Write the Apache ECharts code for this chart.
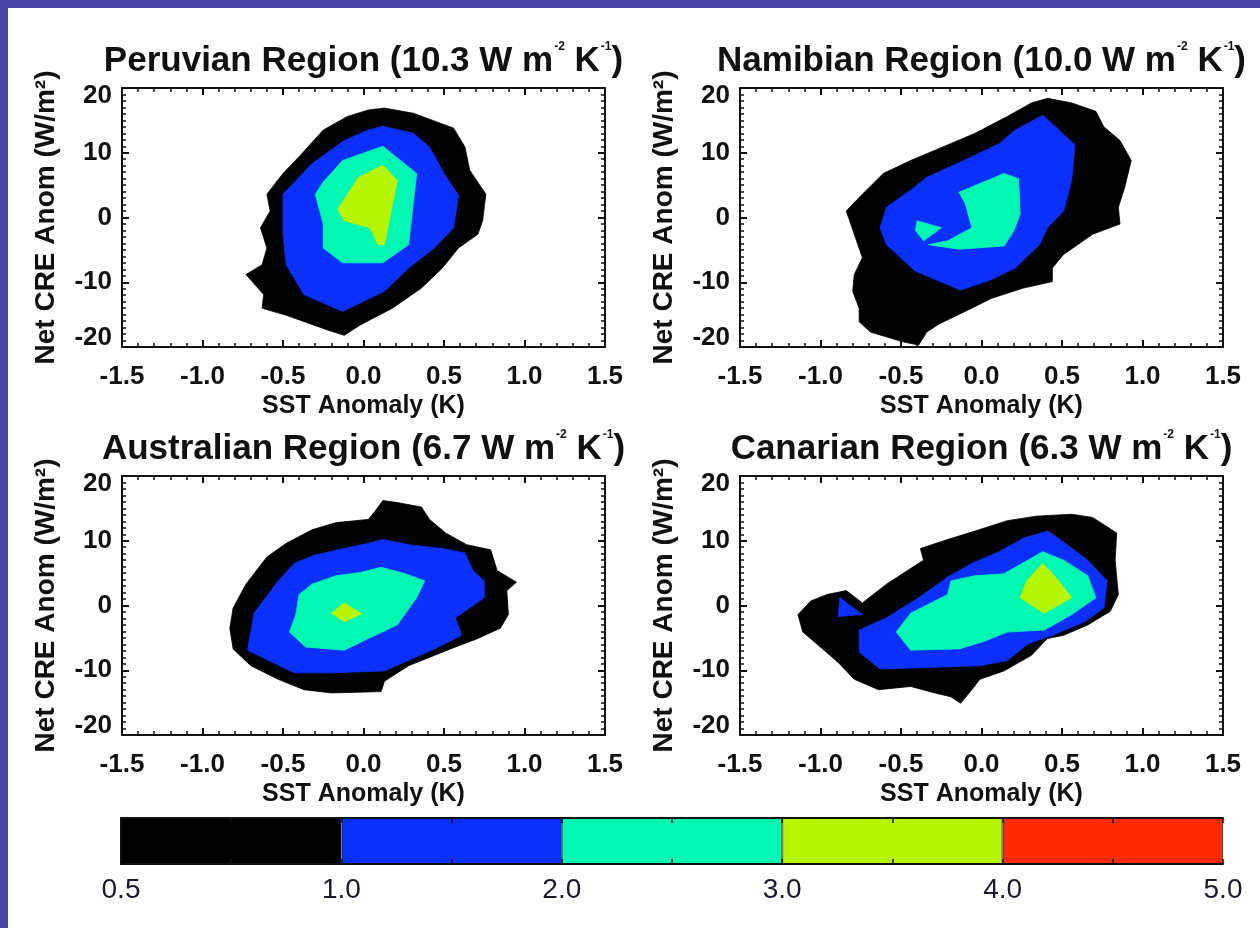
<!DOCTYPE html>
<html>
<head>
<meta charset="utf-8">
<script src="https://cdn.jsdelivr.net/npm/echarts@6/dist/echarts.min.js"></script>
<style>
  html, body { margin: 0; padding: 0; background: #4747a5; }
  #main { position: absolute; left: 8px; top: 8px; width: 1252px; height: 920px; background: #fff; }
</style>
</head>
<body>
<div id="main"></div>
<script>
// panel titles and slopes (W m-2 K-1)
var panelNames = ['Peruvian Region', 'Namibian Region', 'Australian Region', 'Canarian Region'];
var panelSlopes = ['10.3', '10.0', '6.7', '6.3'];

// colorbar levels and colours
var cbLevels = ['0.5', '1.0', '2.0', '3.0', '4.0', '5.0'];
var cbColors = ['#000000', '#0b30ff', '#00f7b2', '#b6f400', '#ff2a00'];

// contour polygons, [SST anomaly (K), net CRE anomaly (W/m2)]
var peruBlack = [[0.13,16.9],[0.31,16.1],[0.56,13.8],[0.63,10.9],[0.66,7.3],[0.76,3.6],[0.74,-0.5],[0.71,-2.6],[0.59,-4.7],[0.49,-7.8],[0.36,-10.9],[0.18,-14.0],[-0.02,-16.6],[-0.12,-18.2],[-0.22,-17.4],[-0.48,-15.1],[-0.63,-14.0],[-0.62,-11.9],[-0.73,-8.8],[-0.63,-7.3],[-0.60,-4.7],[-0.64,-1.6],[-0.58,1.0],[-0.60,3.6],[-0.50,6.8],[-0.40,9.4],[-0.25,13.5],[-0.10,15.6],[0.03,16.6]];
var peruBlue = [[0.12,14.1],[0.31,13.0],[0.41,10.9],[0.50,6.8],[0.59,3.4],[0.56,-1.6],[0.44,-4.7],[0.28,-7.8],[0.13,-11.4],[-0.13,-14.5],[-0.37,-11.9],[-0.48,-7.3],[-0.50,-2.6],[-0.50,3.6],[-0.32,8.3],[-0.12,11.9],[0.03,13.5]];
var peruCyan = [[0.12,11.0],[0.33,6.8],[0.28,-4.2],[0.12,-7.0],[-0.13,-7.0],[-0.25,-4.7],[-0.25,-1.0],[-0.30,3.6],[-0.25,5.5],[-0.13,8.8]];
var peruYellow = [[0.12,8.1],[0.21,5.7],[0.18,2.1],[0.13,-4.2],[0.09,-4.2],[0.04,-1.6],[-0.12,-0.5],[-0.16,1.3],[-0.03,6.2]];

var namiBlack = [[0.41,18.4],[0.56,17.7],[0.71,16.4],[0.76,14.0],[0.86,11.9],[0.93,8.8],[0.89,4.7],[0.85,1.6],[0.86,-1.0],[0.69,-2.6],[0.51,-5.7],[0.44,-7.8],[0.44,-9.9],[0.26,-10.9],[0.06,-12.5],[-0.06,-14.0],[-0.26,-16.4],[-0.34,-17.7],[-0.39,-19.7],[-0.49,-19.2],[-0.69,-17.7],[-0.76,-16.1],[-0.76,-14.0],[-0.80,-11.4],[-0.79,-8.8],[-0.74,-6.2],[-0.79,-2.6],[-0.84,1.0],[-0.74,3.6],[-0.61,6.8],[-0.44,8.8],[-0.24,10.9],[-0.04,13.0],[0.16,15.6],[0.31,17.7]];
var namiBlue = [[0.38,15.8],[0.46,14.0],[0.58,11.2],[0.56,5.7],[0.51,1.0],[0.41,-1.6],[0.36,-4.2],[0.21,-7.8],[0.06,-9.6],[-0.13,-11.2],[-0.41,-8.3],[-0.59,-4.2],[-0.63,-1.6],[-0.59,1.6],[-0.44,4.2],[-0.34,6.2],[-0.11,8.8],[0.11,11.4],[0.21,13.5]];
var namiCyan = [[-0.14,3.9],[0.14,6.8],[0.23,6.0],[0.24,0.5],[0.20,-2.1],[0.14,-4.4],[-0.14,-4.9],[-0.33,-4.2],[-0.21,-3.6],[-0.06,-1.6],[-0.10,2.1]];
var namiCyan2 = [[-0.40,-0.5],[-0.25,-1.6],[-0.36,-3.6],[-0.41,-2.0]];

var ausBlack = [[0.12,16.2],[0.21,15.9],[0.36,15.2],[0.41,13.3],[0.51,11.2],[0.64,9.4],[0.79,8.6],[0.83,5.4],[0.95,3.6],[0.89,2.3],[0.90,-1.4],[0.85,-3.5],[0.71,-5.1],[0.54,-6.7],[0.28,-9.3],[0.13,-11.7],[0.11,-13.3],[-0.20,-13.5],[-0.37,-13.0],[-0.53,-11.4],[-0.70,-9.3],[-0.81,-6.7],[-0.83,-3.5],[-0.81,-0.4],[-0.73,3.3],[-0.60,7.5],[-0.48,9.6],[-0.32,11.7],[-0.17,12.8],[0.03,13.3],[0.07,14.5]];
var ausBlue = [[0.12,10.2],[0.28,9.4],[0.49,8.8],[0.63,8.1],[0.68,5.4],[0.75,3.8],[0.75,1.2],[0.57,-1.9],[0.61,-4.6],[0.44,-6.7],[0.13,-10.1],[-0.20,-10.4],[-0.43,-10.4],[-0.72,-6.9],[-0.68,-1.2],[-0.53,3.8],[-0.43,6.5],[-0.30,7.8],[-0.12,8.8],[0.03,9.6]];
var ausCyan = [[0.11,5.9],[0.26,4.9],[0.38,3.8],[0.33,1.2],[0.21,-3.0],[0.03,-5.1],[-0.12,-6.9],[-0.36,-6.4],[-0.46,-4.1],[-0.42,-1.4],[-0.40,1.7],[-0.32,3.3],[-0.17,4.6],[-0.02,5.1]];
var ausYellow = [[-0.12,0.4],[-0.01,-1.3],[-0.12,-2.5],[-0.20,-1.2]];

var canBlack = [[0.56,14.1],[0.69,13.6],[0.84,11.2],[0.83,7.0],[0.85,1.7],[0.80,-0.9],[0.66,-3.0],[0.51,-4.6],[0.41,-5.1],[0.31,-7.7],[0.14,-10.1],[-0.01,-11.4],[-0.06,-13.0],[-0.13,-15.1],[-0.19,-14.1],[-0.29,-13.5],[-0.44,-12.5],[-0.64,-13.0],[-0.79,-11.4],[-0.89,-8.8],[-1.01,-6.2],[-1.11,-4.1],[-1.14,-1.4],[-1.06,0.7],[-0.96,1.7],[-0.84,2.3],[-0.74,0.4],[-0.59,3.3],[-0.46,5.4],[-0.36,7.0],[-0.38,8.8],[-0.21,10.2],[-0.04,11.5],[0.16,13.1],[0.34,13.8]];
var canBlue = [[0.41,11.5],[0.46,10.7],[0.66,7.0],[0.78,3.8],[0.76,-0.4],[0.64,-2.5],[0.44,-4.6],[0.29,-5.9],[0.16,-8.5],[-0.01,-9.3],[-0.36,-9.6],[-0.63,-9.8],[-0.76,-7.2],[-0.76,-3.8],[-0.59,-1.9],[-0.39,1.2],[-0.21,4.4],[-0.06,6.5],[0.11,8.3],[0.26,10.4]];
var canBlue2 = [[-0.88,1.2],[-0.74,-1.4],[-0.89,-1.7]];
var canCyan = [[0.38,8.3],[0.51,7.0],[0.66,4.6],[0.71,1.2],[0.56,-1.4],[0.39,-3.8],[0.16,-4.1],[0.01,-5.6],[-0.14,-6.7],[-0.44,-6.9],[-0.53,-4.1],[-0.44,-1.2],[-0.21,1.7],[-0.19,3.8],[-0.04,4.6],[0.14,4.9],[0.21,5.9]];
var canYellow = [[0.38,6.5],[0.46,4.4],[0.56,1.2],[0.39,-1.2],[0.24,1.2],[0.28,3.8]];

// polygons of each panel, outer to inner: [points, level index]
var panelPolys = [
    [[peruBlack, 0], [peruBlue, 1], [peruCyan, 2], [peruYellow, 3]],
    [[namiBlack, 0], [namiBlue, 1], [namiCyan, 2], [namiCyan2, 2]],
    [[ausBlack, 0], [ausBlue, 1], [ausCyan, 2], [ausYellow, 3]],
    [[canBlack, 0], [canBlue, 1], [canBlue2, 1], [canCyan, 2], [canYellow, 3]]
];

var FONT = "'Liberation Sans', Arial, sans-serif";
var INK = '#111';
var gridPos = [[114, 80], [732, 80], [114, 468], [732, 468]];
var GW = 483, GH = 259;

function polyRender(points, color) {
    return function (params, api) {
        if (params.dataIndex !== 0) return;
        var pts = [];
        for (var i = 0; i < points.length; i++) {
            pts.push(api.coord(points[i]));
        }
        return { type: 'polygon', shape: { points: pts }, style: { fill: color, stroke: color, lineWidth: 0.8 } };
    };
}

var tickFont = { fontFamily: FONT, fontSize: 26, fontWeight: 'bold', color: INK };

function frameAxis(isX, pos, showLabel, name) {
    var ax = {
        type: 'value',
        position: pos,
        z: 10,
        min: isX ? -1.5 : -20,
        max: isX ? 1.5 : 20,
        interval: isX ? 0.5 : 10,
        axisLine: { show: true, onZero: false, lineStyle: { color: INK, width: 2 } },
        axisTick: { show: true, inside: true, length: 7, lineStyle: { color: INK, width: 2 } },
        minorTick: { show: true, splitNumber: isX ? 5 : 10, length: 4, lineStyle: { color: INK, width: 1.5 } },
        splitLine: { show: false },
        axisLabel: Object.assign({
            show: showLabel,
            margin: isX ? 17 : 10,
            formatter: function (v) {
                if (isX) return v.toFixed(1);
                // end labels sit inside the frame, as in the original plot
                if (v === 20) return '{hi|20}';
                if (v === -20) return '{lo|-20}';
                return String(v);
            },
            rich: {
                hi: Object.assign({ padding: [15, 0, 0, 0] }, tickFont),
                lo: Object.assign({ padding: [0, 0, 19, 0] }, tickFont)
            }
        }, tickFont)
    };
    if (name) {
        ax.name = name;
        ax.nameLocation = 'middle';
        ax.nameGap = isX ? 47 : 62;
        ax.nameTextStyle = { fontFamily: FONT, fontSize: isX ? 25 : 28, fontWeight: 'bold', color: INK };
    }
    return ax;
}

var chart = echarts.init(document.getElementById('main'));

var titles = [], grids = [], xAxes = [], yAxes = [], series = [];
for (var p = 0; p < 4; p++) {
    var gx = gridPos[p][0], gy = gridPos[p][1];
    titles.push({
        text: '{a|' + panelNames[p] + ' (' + panelSlopes[p] + ' W m}{s|-2}{a| K}{s|-1}{a|)}',
        left: gx + GW / 2,
        top: gy - 47,
        textAlign: 'center',
        padding: 0,
        textStyle: {
            rich: {
                a: { fontFamily: FONT, fontSize: 35, fontWeight: 'bold', color: INK, lineHeight: 40 },
                s: { fontFamily: FONT, fontSize: 12, fontWeight: 'bold', color: INK, lineHeight: 40, verticalAlign: 'top', padding: [0, 0, 18, 1] }
            }
        }
    });
    grids.push({ left: gx, top: gy, width: GW, height: GH });
    xAxes.push(Object.assign(frameAxis(true, 'bottom', true, 'SST Anomaly (K)'), { gridIndex: p }));
    xAxes.push(Object.assign(frameAxis(true, 'top', false), { gridIndex: p }));
    yAxes.push(Object.assign(frameAxis(false, 'left', true, 'Net CRE Anom (W/m\u00b2)'), { gridIndex: p }));
    yAxes.push(Object.assign(frameAxis(false, 'right', false), { gridIndex: p }));
    panelPolys[p].forEach(function (poly) {
        series.push({
            type: 'custom',
            xAxisIndex: p * 2,
            yAxisIndex: p * 2,
            silent: true,
            data: poly[0],
            renderItem: polyRender(poly[0], cbColors[poly[1]])
        });
    });
}

// colorbar
var cbGrid = grids.length;
grids.push({ left: 113, top: 810, width: 1102, height: 46 });
var cbX = {
    type: 'value', gridIndex: cbGrid, min: 0, max: cbLevels.length - 1, interval: 0.5, z: 10,
    axisLine: { show: true, lineStyle: { color: INK, width: 2 } },
    axisTick: { show: true, inside: true, length: 5, lineStyle: { color: INK, width: 1.5 } },
    splitLine: { show: false },
    axisLabel: {
        margin: 12, fontFamily: FONT, fontSize: 28, color: '#1a1a2a',
        formatter: function (v) { return Number.isInteger(v) ? cbLevels[v] : ''; }
    }
};
xAxes.push(cbX);
xAxes.push(Object.assign({}, cbX, { position: 'top', axisLabel: { show: false } }));
var cbY = {
    type: 'category', gridIndex: cbGrid, data: ['ratio'], z: 10,
    axisLine: { show: true, lineStyle: { color: INK, width: 2 } },
    axisTick: { show: false }, axisLabel: { show: false }
};
yAxes.push(cbY);
yAxes.push(Object.assign({}, cbY, { position: 'right' }));
for (var c = 0; c < cbColors.length; c++) {
    series.push({
        type: 'bar',
        name: cbLevels[c] + '-' + cbLevels[c + 1],
        xAxisIndex: xAxes.length - 2,
        yAxisIndex: yAxes.length - 2,
        stack: 'cb',
        barWidth: '100%',
        silent: true,
        itemStyle: { color: cbColors[c], borderColor: 'rgba(0,0,0,0.55)', borderWidth: 1 },
        data: [1]
    });
}

chart.setOption({
    animation: false,
    backgroundColor: '#fff',
    title: titles,
    grid: grids,
    xAxis: xAxes,
    yAxis: yAxes,
    series: series
});
</script>
</body>
</html>
